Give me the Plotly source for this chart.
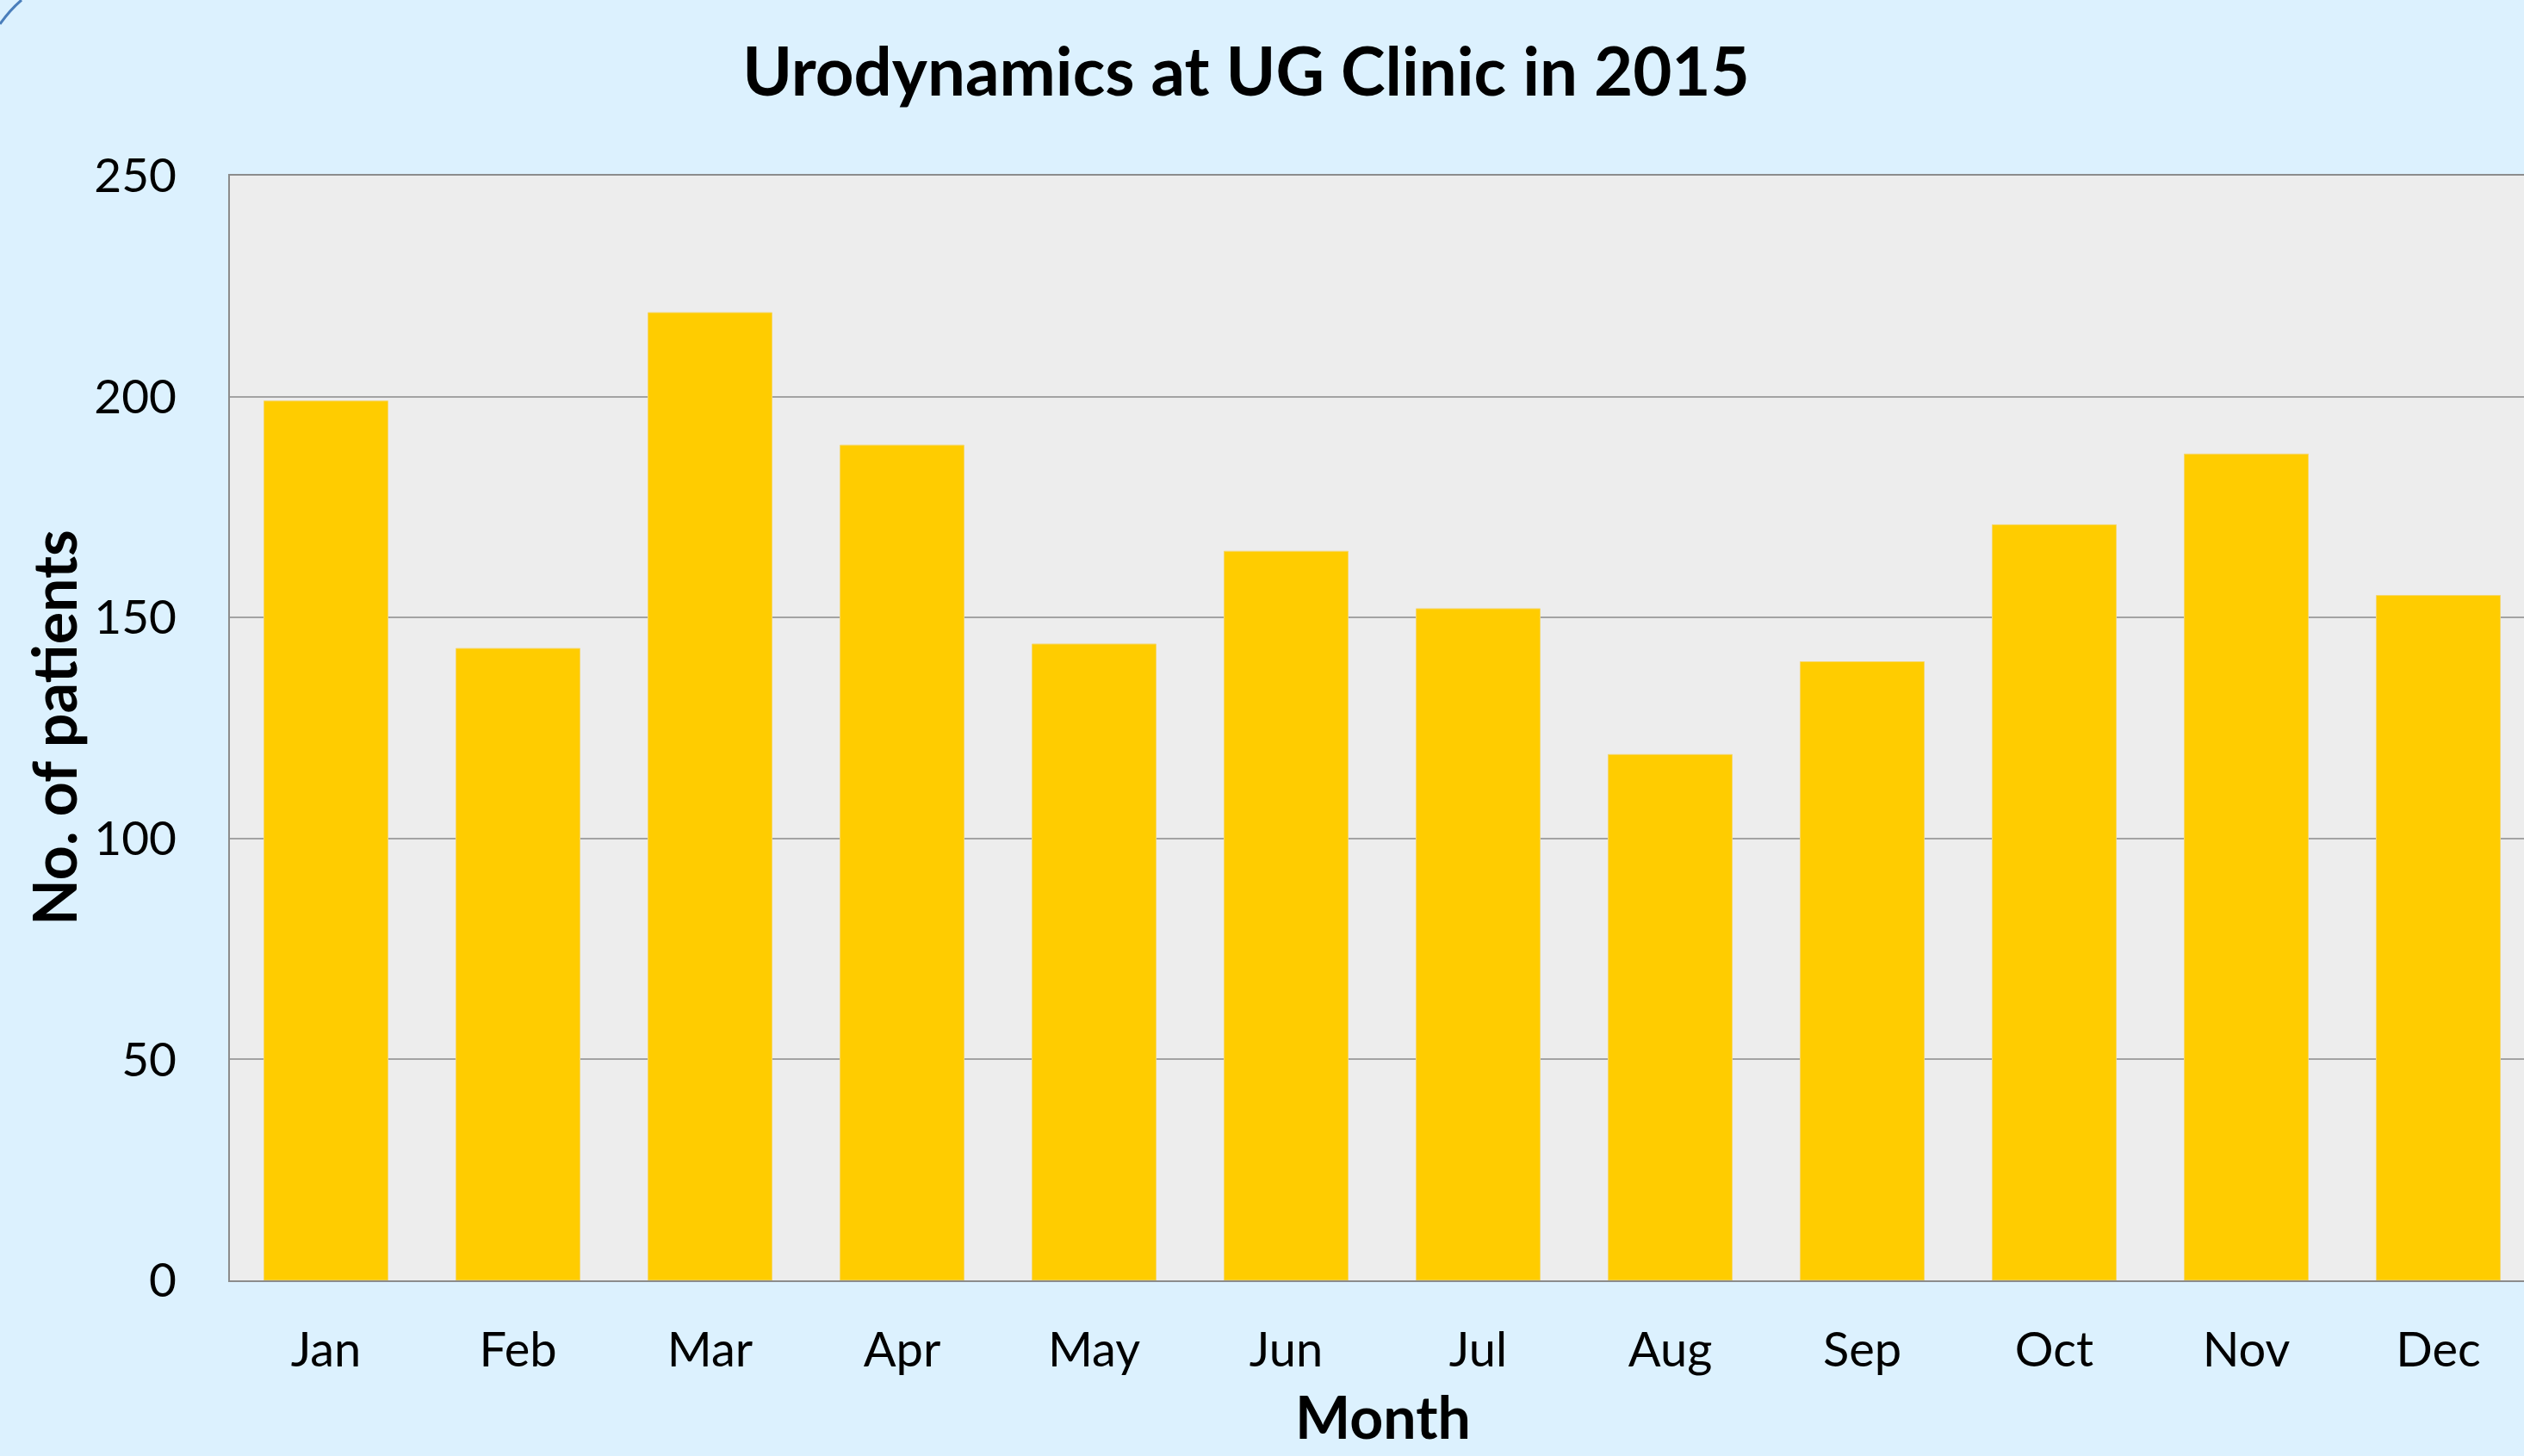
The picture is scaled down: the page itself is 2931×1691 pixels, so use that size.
import plotly.graph_objects as go

months = ["Jan", "Feb", "Mar", "Apr", "May", "Jun", "Jul", "Aug", "Sep", "Oct", "Nov", "Dec"]
patients = [199, 143, 219, 189, 144, 165, 152, 119, 140, 171, 187, 155]
y_ticks = [0, 50, 100, 150, 200, 250]

W, H = 2931, 1691
L, T, B = 267, 204, 1487  # plot area pixel edges
plot_w = W - L
cat_w = 223.0

FONT = "Lato"
BG = "#DCF1FE"

fig = go.Figure()
fig.add_trace(go.Bar(
    x=list(range(len(months))), y=patients,
    marker=dict(color="#FFCC00", line=dict(color="#F5D76E", width=1)),
    hoverinfo="skip",
))

def px2paper_x(px):
    return (px - L) / plot_w

def py2paper_y(py):
    return (B - py) / (B - T)

fig.update_layout(
    width=W, height=H,
    paper_bgcolor=BG, plot_bgcolor="#EDEDED",
    margin=dict(l=L, r=0, t=T, b=H - B, autoexpand=False),
    bargap=0.354,
    showlegend=False,
    font=dict(family=FONT, color="#000000"),
    title=dict(text="<b>Urodynamics at UG Clinic in 2015</b>",
               font=dict(family=FONT, size=78, color="#000000"),
               x=1447 / W, xanchor="center", xref="container",
               y=1 - 84 / H, yanchor="middle", yref="container"),
    xaxis=dict(
        range=[-0.5, -0.5 + plot_w / cat_w],
        tickmode="array", tickvals=list(range(len(months))), ticktext=months,
        tickfont=dict(family=FONT, size=56, color="#000000"),
        showgrid=False, showline=True, linecolor="#8C8C8C", linewidth=2,
        mirror=True, ticks="", ticklabelstandoff=31, zeroline=False,
        fixedrange=True,
    ),
    yaxis=dict(
        range=[0, 250], tickmode="array", tickvals=y_ticks,
        tickfont=dict(family=FONT, size=55, color="#000000"),
        showgrid=True, gridcolor="#A3A3A3", gridwidth=2,
        showline=True, linecolor="#8C8C8C", linewidth=2,
        ticks="", ticklabelstandoff=49, zeroline=False, fixedrange=True,
    ),
    annotations=[
        dict(text="<b>No. of patients</b>", textangle=-90,
             xref="paper", yref="paper",
             x=px2paper_x(62), y=py2paper_y(845),
             xanchor="center", yanchor="middle", showarrow=False,
             font=dict(family=FONT, size=70, color="#000000")),
        dict(text="<b>Month</b>",
             xref="paper", yref="paper",
             x=px2paper_x(1606), y=py2paper_y(1644),
             xanchor="center", yanchor="middle", showarrow=False,
             borderpad=0,
             font=dict(family=FONT, size=68, color="#000000")),
    ],
    shapes=[
        dict(type="path", xref="paper", yref="paper",
             path="M {:.5f},{:.5f} Q {:.5f},{:.5f} {:.5f},{:.5f}".format(
                 px2paper_x(0), py2paper_y(28),
                 px2paper_x(11), py2paper_y(12),
                 px2paper_x(25), py2paper_y(0)),
             line=dict(color="#4A7EBB", width=3)),
    ],
)

fig.write_html(
    "out.html",
    config={"displayModeBar": False},
    post_script="document.body.style.margin='0';document.body.style.padding='0';"
                "document.body.style.overflow='hidden';",
)
